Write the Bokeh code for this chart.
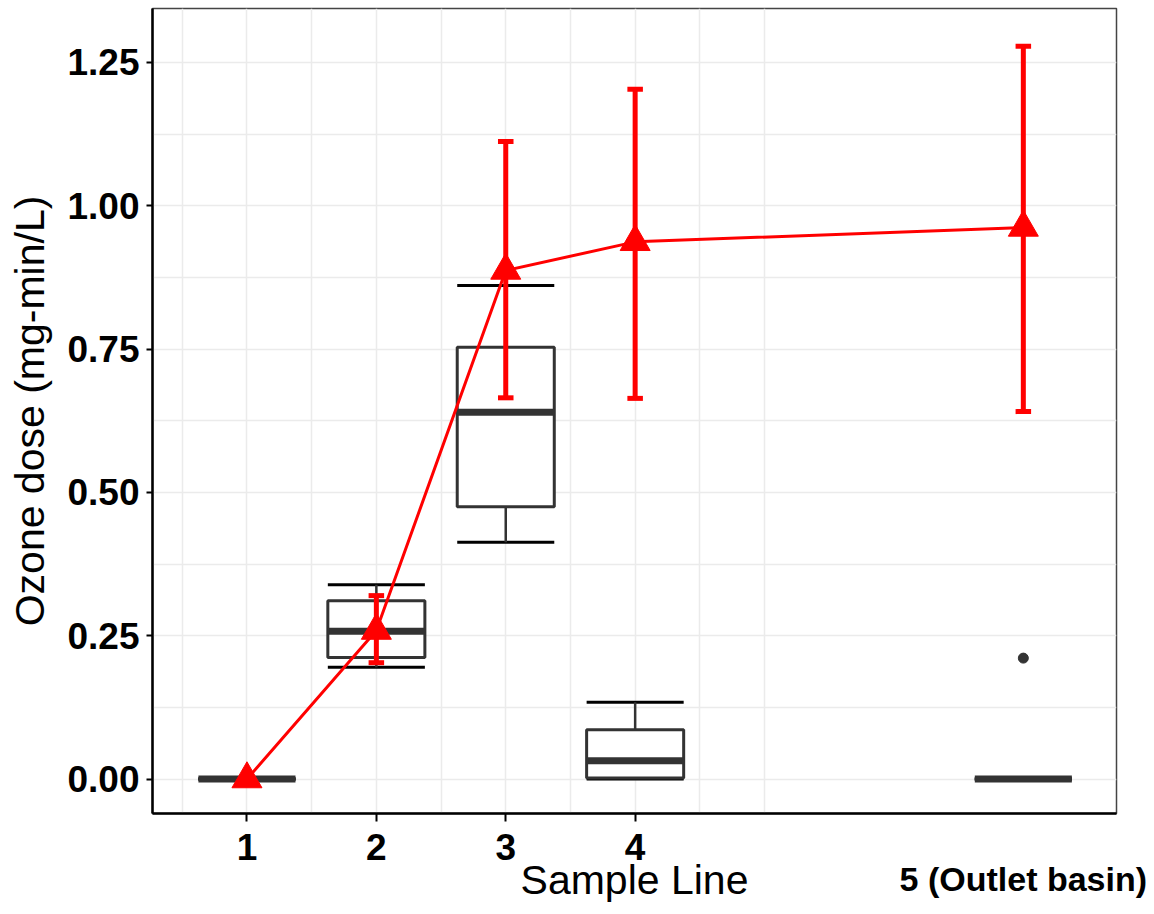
from bokeh.plotting import figure
from bokeh.models import FixedTicker, Range1d, LinearAxis, ColumnDataSource, NumeralTickFormatter
from bokeh.embed import file_html
from bokeh.resources import INLINE

# ---- data ----
positions = [1, 2, 3, 4, 7]
box_lower = [0.0, 0.195, 0.413, 0.0, 0.0]
box_q1 = [0.0, 0.212, 0.475, 0.002, 0.0]
box_median = [0.0, 0.258, 0.640, 0.032, 0.0]
box_q3 = [0.0, 0.311, 0.753, 0.086, 0.0]
box_upper = [0.0, 0.339, 0.861, 0.134, 0.0]
outlier_x = [7]
outlier_y = [0.211]
mean_dose = [0.0, 0.259, 0.887, 0.937, 0.962]
err_low = [0.0, 0.203, 0.665, 0.664, 0.641]
err_high = [0.0, 0.320, 1.112, 1.203, 1.278]
x_ticks = [1, 2, 3, 4]
x_grid = [0.5, 1, 1.5, 2, 2.5, 3, 3.5, 4, 4.5, 5]
y_ticks = [0, 0.25, 0.5, 0.75, 1.0, 1.25]
y_grid = [0, 0.125, 0.25, 0.375, 0.5, 0.625, 0.75, 0.875, 1.0, 1.125, 1.25]
outlet_pos = 7
outlet_label = "5 (Outlet basin)"

BOX_W = 0.75
CAP_W = 0.12
FONT = "Liberation Sans"

p = figure(width=1154, height=914, output_backend="svg", toolbar_location=None,
           x_range=Range1d(0.27, 7.72), y_range=Range1d(-0.060, 1.344),
           min_border_left=152, min_border_right=38, min_border_top=8, min_border_bottom=101)
p.background_fill_color = "white"
p.border_fill_color = "white"
p.outline_line_color = "#444444"
p.outline_line_width = 1.5

# grid
p.xgrid.ticker = FixedTicker(ticks=x_grid)
p.ygrid.ticker = FixedTicker(ticks=y_grid)
for g in (p.xgrid, p.ygrid):
    g.grid_line_color = "#EBEBEB"
    g.grid_line_width = 1.5

# main axes
xmain = p.xaxis[0]
ymain = p.yaxis[0]
xmain.ticker = FixedTicker(ticks=x_ticks)
ymain.ticker = FixedTicker(ticks=y_ticks)
ymain.formatter = NumeralTickFormatter(format="0.00")
ymain.axis_label = "Ozone dose (mg-min/L)"
for ax in (xmain, ymain):
    ax.axis_line_color = "black"
    ax.axis_line_width = 2.5
    ax.major_tick_line_color = "black"
    ax.major_tick_line_width = 2
    ax.major_tick_in = 0
    ax.minor_tick_line_color = None
    ax.major_label_text_font = FONT
    ax.major_label_text_font_style = "bold"
    ax.major_label_text_font_size = "37px"
    ax.major_label_text_color = "black"
    ax.axis_label_text_font = FONT
    ax.axis_label_text_font_style = "normal"
    ax.axis_label_text_font_size = "41px"
    ax.axis_label_text_color = "black"
xmain.major_tick_out = 8
ymain.major_tick_out = 6
xmain.major_label_standoff = 12
ymain.major_label_standoff = 7
ymain.axis_label_standoff = 11

# second row under the axis: outlet label (tick label at x=7) and "Sample Line" title
xrow = LinearAxis(ticker=FixedTicker(ticks=[outlet_pos]),
                  major_label_overrides={outlet_pos: outlet_label},
                  axis_label="Sample Line")
xrow.axis_line_color = None
xrow.major_tick_line_color = None
xrow.minor_tick_line_color = None
xrow.major_tick_out = 0
xrow.major_tick_in = 0
xrow.major_label_standoff = -3
xrow.major_label_text_font = FONT
xrow.major_label_text_font_style = "bold"
xrow.major_label_text_font_size = "34px"
xrow.major_label_text_color = "black"
xrow.axis_label_text_font = FONT
xrow.axis_label_text_font_style = "normal"
xrow.axis_label_text_font_size = "41px"
xrow.axis_label_text_color = "black"
xrow.axis_label_standoff = -44
p.add_layout(xrow, "below")

# boxplots
lefts = [x - BOX_W / 2 for x in positions]
rights = [x + BOX_W / 2 for x in positions]
src = ColumnDataSource(dict(x=positions, lo=box_lower, q1=box_q1, med=box_median,
                            q3=box_q3, hi=box_upper, l=lefts, r=rights))
p.segment(x0="l", x1="r", y0="hi", y1="hi", source=src, line_color="black", line_width=3)
p.segment(x0="l", x1="r", y0="lo", y1="lo", source=src, line_color="black", line_width=3)
p.segment(x0="x", x1="x", y0="q3", y1="hi", source=src, line_color="#333333", line_width=2.5)
p.segment(x0="x", x1="x", y0="lo", y1="q1", source=src, line_color="#333333", line_width=2.5)
p.vbar(x="x", width=BOX_W, bottom="q1", top="q3", source=src,
       fill_color="white", line_color="#333333", line_width=3)
p.segment(x0="l", x1="r", y0="med", y1="med", source=src, line_color="#333333", line_width=7)
p.scatter(outlier_x, outlier_y, size=10, color="#333333")

# mean line with error bars
esrc = ColumnDataSource(dict(x=positions, m=mean_dose, lo=err_low, hi=err_high,
                             cl=[x - CAP_W / 2 for x in positions],
                             cr=[x + CAP_W / 2 for x in positions]))
p.line("x", "m", source=esrc, line_color="#FF0000", line_width=3)
p.segment(x0="x", x1="x", y0="lo", y1="hi", source=esrc, line_color="#FF0000", line_width=5)
p.segment(x0="cl", x1="cr", y0="hi", y1="hi", source=esrc, line_color="#FF0000", line_width=5)
p.segment(x0="cl", x1="cr", y0="lo", y1="lo", source=esrc, line_color="#FF0000", line_width=5)
p.scatter("x", "m", source=esrc, marker="triangle", size=30, color="#FF0000")

open("out.html", "w").write(file_html(p, INLINE))
